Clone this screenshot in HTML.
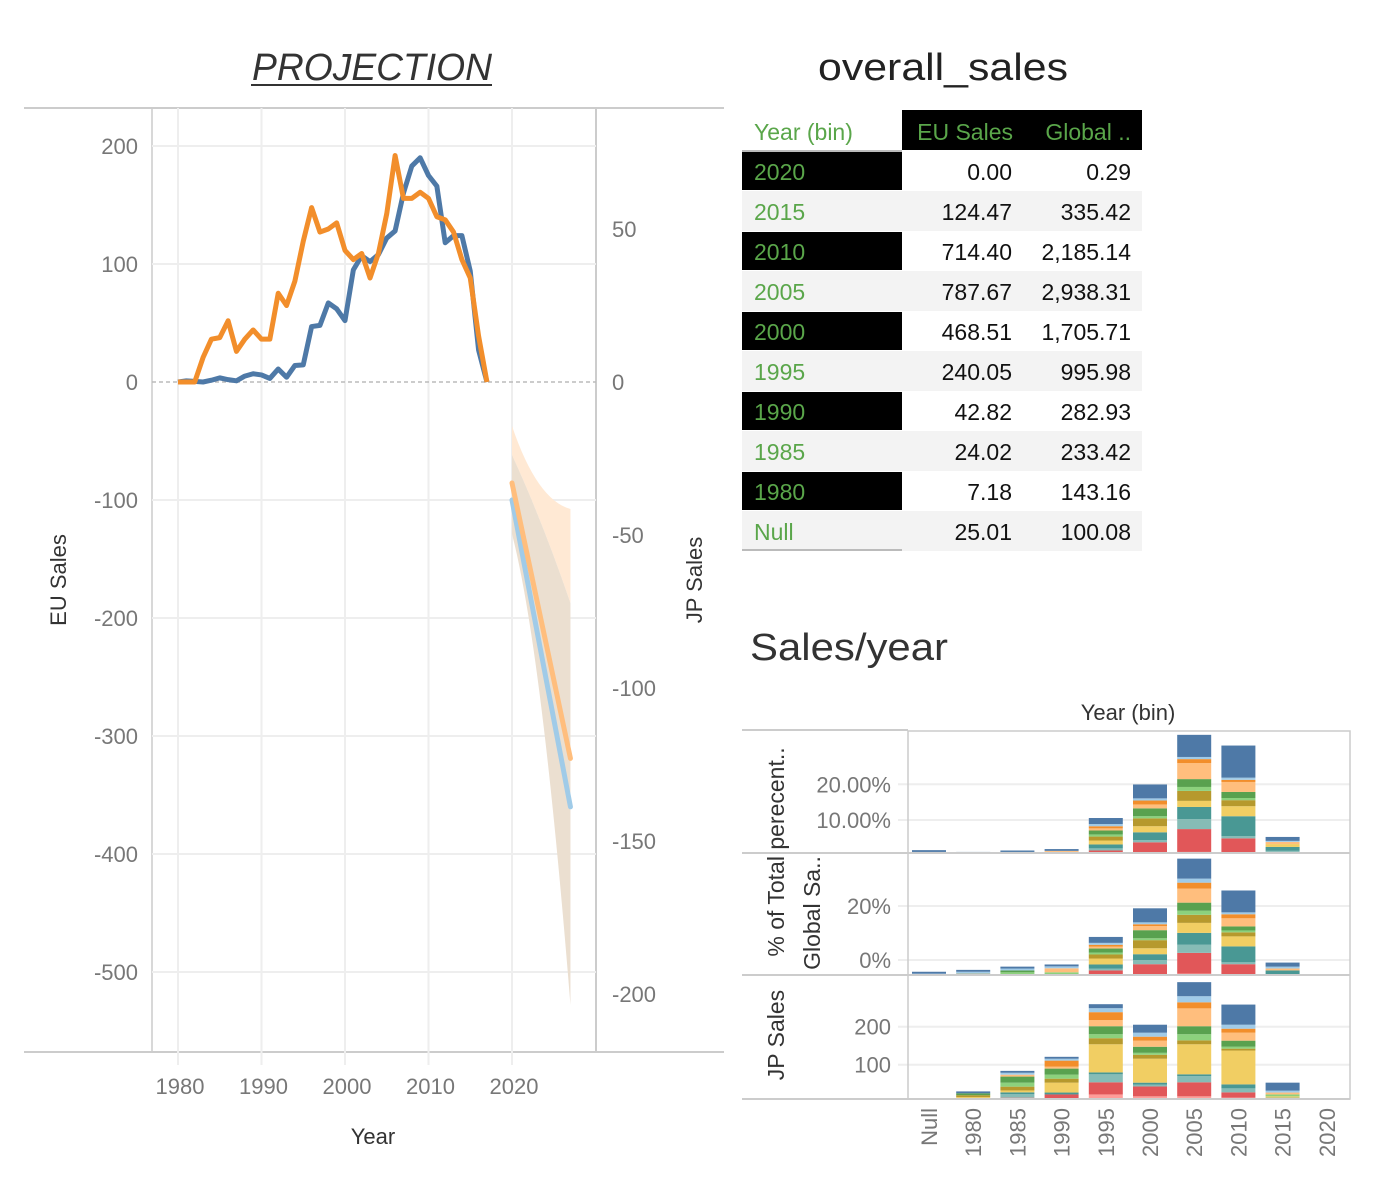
<!DOCTYPE html>
<html><head><meta charset="utf-8"><style>
html,body{margin:0;padding:0;background:#fff;}
svg{display:block;font-family:"Liberation Sans",sans-serif;}
</style></head><body>
<svg id="c" width="1374" height="1190" viewBox="0 0 1374 1190">
<text x="372" y="80" text-anchor="middle" font-size="38" font-style="italic" fill="#333" textLength="240" lengthAdjust="spacingAndGlyphs">PROJECTION</text>
<line x1="251" y1="85" x2="492" y2="85" stroke="#333" stroke-width="2"/>
<text x="818" y="80" font-size="38" fill="#222" textLength="250" lengthAdjust="spacingAndGlyphs">overall_sales</text>
<text x="750" y="660" font-size="38" fill="#333" textLength="198" lengthAdjust="spacingAndGlyphs">Sales/year</text>
<g id="line"></g><g id="tbl"></g><g id="bars"></g>
</svg>
<script>
// ---- Projection chart data ----
const years = [1980,1981,1982,1983,1984,1985,1986,1987,1988,1989,1990,1991,1992,1993,1994,1995,1996,1997,1998,1999,2000,2001,2002,2003,2004,2005,2006,2007,2008,2009,2010,2011,2012,2013,2014,2015,2016,2017];
const euSales = [0,1,0.5,0,1.5,3.5,2,1,5,7,6,3,11,4,14,14.5,47,48,67,62,52,95,107,102,108,122,128,160,183,190,175,166,118,124,124,94,27,0];
const jpSales = [0,0,0,8,14,14.5,20,10,14,17,14,14,29,25,33,46,57,49,50,52,43,40,42,34,42,55,74,60,60,62,60,54,53,49,40,34,15,0];
const projYears = [2020,2027];
const euProj = [-100,-360];
const jpProj = [-33,-123];
const euTicks = [200,100,0,-100,-200,-300,-400,-500];
const jpTicks = [50,0,-50,-100,-150,-200];
const xTicks = [1980,1990,2000,2010,2020];
// ---- Table data ----
const binLabels = ['2020','2015','2010','2005','2000','1995','1990','1985','1980','Null'];
const euTotals = ['0.00','124.47','714.40','787.67','468.51','240.05','42.82','24.02','7.18','25.01'];
const globalTotals = ['0.29','335.42','2,185.14','2,938.31','1,705.71','995.98','282.93','233.42','143.16','100.08'];
// ---- Stacked bar data (segments bottom->top by genre color) ----
const bins = ['Null','1980','1985','1990','1995','2000','2005','2010','2015','2020'];
const pctTicks = [10,20];
const shareTicks = [0,20];
const jpTicksBar = [100,200];
const pctSeg = [
 [0,0,0,0,0,0,0,0,0,0,0.3,0.5],[0,0,0,0,0,0,0,0,0,0,0,0.3],[0,0,0,0,0,0,0,0.3,0,0,0,0.4],
 [0,0,0.3,0,0,0,0,0,0.3,0,0,0.5],[0,0.7,0.6,1.1,1.1,1.1,0.6,1.1,0.6,0.6,0.6,1.7],
 [0,3.0,0.6,2.2,1.7,2.2,0.6,2.2,1.1,1.1,0.6,3.9],[0.3,6.4,2.8,3.4,1.7,2.8,1.1,2.2,4.5,1.1,0.6,6.2],
 [0,4.1,0.6,5.6,2.8,1.7,0.6,1.7,2.8,0.6,0.6,9.0],[0,0.3,0.3,1.1,0.8,0,0,0,0.6,0,0.3,1.1],[0,0,0,0,0,0,0,0,0,0,0,0]];
const shareSeg = [
 [0,0,0,0,0,0,0,0,0,0,0.5,0.7],[0,0,0,0,0,0.5,0,0,0,0,0.7,0.7],[0,0,0,0,0,0,1.0,0.7,0,0,0.7,0.7],
 [0,0,0,0,0,0,1.0,0,1.5,0,0.7,0.7],[0,1.7,0.7,1.5,2.2,1.5,0.7,1.5,0.7,0.7,0.7,2.2],
 [0,4.0,1.5,2.2,2.2,3.0,0.7,3.0,1.5,0.7,0.7,5.2],[0.5,7.7,3.0,4.4,3.7,3.0,1.5,3.0,5.2,2.2,1.5,7.4],
 [0,4.0,0.7,5.9,3.7,1.5,0.7,1.5,3.0,1.5,0.7,8.1],[0,0,0,1.7,0,0,0,0,0.7,0,0.7,1.5],[0,0,0,0,0,0,0,0,0,0,0,0]];
const jpSeg = [
 [0,0,0,0,0,0,0,0,0,0,0,2],[0,0,0,0,5,5,0,5,0,0,0,5],[0,3.5,9,5,5,10,10.5,16,5,0,5,5],
 [0,12,0,5,26,10.5,10.5,16,5,16,5,5],[12,32,21,5,74,16,10.5,21,16,21,10.5,10.5],
 [7,26,5,5,63,10.5,5,16,16,10.5,10.5,21],[7,37,16,5,79,10.5,16,21,47,16,16,37],
 [3.5,14,10.5,10.5,89,5,5,16,21,10.5,10.5,53],[0,0,0,3.5,3.5,0,5,0,5,0,5,21],[0,0,0,0,0,0,0,0,0,0,0,0]];
const colors = ['#ff9d9a','#e15759','#86bcb6','#499894','#f1ce63','#b6992d','#8cd17d','#59a14f','#ffbe7d','#f28e2b','#a0cbe8','#4e79a7'];

const NS='http://www.w3.org/2000/svg';
function mk(parent,tag,attrs,text){const e=document.createElementNS(NS,tag);for(const k in attrs)e.setAttribute(k,attrs[k]);if(text!==undefined)e.textContent=text;parent.appendChild(e);return e;}

// ===== Line chart =====
const L=document.getElementById('line');
const xS=y=>178+(y-1980)*8.35;
const euY=v=>382-v*1.18;
const jpY=v=>382-v*3.06;
let e;
e=mk(L,'line',{x1:24,y1:108,x2:724,y2:108,stroke:'#ccc','stroke-width':2});


e=mk(L,'line',{x1:24,y1:1052,x2:724,y2:1052,stroke:'#ccc','stroke-width':2});


e=mk(L,'line',{x1:152,y1:108,x2:152,y2:1052,stroke:'#ccc','stroke-width':1.5});


e=mk(L,'line',{x1:596,y1:108,x2:596,y2:1052,stroke:'#ccc','stroke-width':2});


xTicks.forEach(t=>{
 e=mk(L,'line',{x1:xS(t),y1:108,x2:xS(t),y2:1065,stroke:'#eee','stroke-width':2});
 
 
 e=mk(L,'text',{x:xS(t)+2,y:1094,'text-anchor':'middle','font-size':22,fill:'#777'},t);
 
 
});
euTicks.forEach(t=>{
 if(t!==0){e=mk(L,'line',{x1:152,y1:euY(t),x2:596,y2:euY(t),stroke:'#eee','stroke-width':2});
 
 }
 e=mk(L,'text',{x:138,y:euY(t)+8,'text-anchor':'end','font-size':22,fill:'#777'},t);
 
 
});
jpTicks.forEach(t=>{
 e=mk(L,'text',{x:612,y:jpY(t)+8,'font-size':22,fill:'#777'},t);
 
 
});
e=mk(L,'line',{x1:152,y1:euY(0),x2:596,y2:euY(0),stroke:'#bbb','stroke-width':1.5,'stroke-dasharray':'4,3'});


const x0=xS(projYears[0]),x1=xS(projYears[1]);
e=mk(L,'path',{d:`M${x0},426 Q${x0+25},500 ${x1},509 L${x1},603 Q${x0+30},520 ${x0},455 Z`,fill:'#ffe9d4'});


e=mk(L,'path',{d:`M${x0},455 Q${x0+30},520 ${x1},603 L${x1},1005 Q${x0+30},650 ${x0},534 Z`,fill:'#ebdfd0'});


e=mk(L,'polyline',{points:years.map((y,i)=>xS(y)+','+euY(euSales[i])).join(' '),fill:'none',stroke:'#4e79a7','stroke-width':5,'stroke-linejoin':'round'});


e=mk(L,'polyline',{points:years.map((y,i)=>xS(y)+','+jpY(jpSales[i])).join(' '),fill:'none',stroke:'#f28e2b','stroke-width':5,'stroke-linejoin':'round'});


e=mk(L,'polyline',{points:projYears.map((y,i)=>xS(y)+','+euY(euProj[i])).join(' '),fill:'none',stroke:'#a0cbe8','stroke-width':5,'stroke-linecap':'round'});


e=mk(L,'polyline',{points:projYears.map((y,i)=>xS(y)+','+jpY(jpProj[i])).join(' '),fill:'none',stroke:'#ffbe7d','stroke-width':5,'stroke-linecap':'round'});


e=mk(L,'text',{x:373,y:1144,'text-anchor':'middle','font-size':22,fill:'#333'},'Year');


e=mk(L,'text',{x:66,y:580,'text-anchor':'middle','font-size':22,fill:'#333',transform:'rotate(-90 66 580)'},'EU Sales');


e=mk(L,'text',{x:702,y:580,'text-anchor':'middle','font-size':22,fill:'#333',transform:'rotate(-90 702 580)'},'JP Sales');



// ===== Table =====
const T=document.getElementById('tbl');
const green='#5aa64a';
e=mk(T,'rect',{x:902,y:110,width:240,height:40,fill:'#000'});


e=mk(T,'text',{x:754,y:140,'font-size':23,fill:green},'Year (bin)');


e=mk(T,'text',{x:1013,y:140,'text-anchor':'end','font-size':23,fill:green},'EU Sales');


e=mk(T,'text',{x:1131,y:140,'text-anchor':'end','font-size':23,fill:green},'Global ..');


e=mk(T,'line',{x1:742,y1:151,x2:902,y2:151,stroke:'#bbb','stroke-width':2});


binLabels.forEach((b,i)=>{
 const y=151+i*40;
 if(i%2===1){e=mk(T,'rect',{x:742,y:y,width:400,height:40,fill:'#f3f3f3'});
  
  }
 else if(b!=='Null'){e=mk(T,'rect',{x:742,y:y+1,width:160,height:38,fill:'#000'});
  
  }
 e=mk(T,'text',{x:754,y:y+29,'font-size':23,fill:green},b);
 
 
 e=mk(T,'text',{x:1012,y:y+29,'text-anchor':'end','font-size':23,fill:'#111'},euTotals[i]);
 
 
 e=mk(T,'text',{x:1131,y:y+29,'text-anchor':'end','font-size':23,fill:'#111'},globalTotals[i]);
 
 
});
e=mk(T,'line',{x1:742,y1:550,x2:902,y2:550,stroke:'#bbb','stroke-width':2});



// ===== Stacked bars =====
const B=document.getElementById('bars');
const bx=i=>929+i*44.2;
const panels=[
 {seg:pctSeg,base:853,scale:3.57,ticks:pctTicks,fmt:t=>t.toFixed(2)+'%',ty:t=>855.7-t*3.57},
 {seg:shareSeg,base:975,scale:2.7,ticks:shareTicks,fmt:t=>t+'%',ty:t=>960-t*2.7},
 {seg:jpSeg,base:1099,scale:0.38,ticks:jpTicksBar,fmt:t=>''+t,ty:t=>1102.7-t*0.38}];
e=mk(B,'text',{x:1128,y:720,'text-anchor':'middle','font-size':22,fill:'#333'},'Year (bin)');


panels.forEach(p=>{
 p.ticks.forEach(t=>{
  e=mk(B,'line',{x1:898,y1:p.ty(t),x2:1350,y2:p.ty(t),stroke:'#eee','stroke-width':2});
  
  
  e=mk(B,'text',{x:891,y:p.ty(t)+8,'text-anchor':'end','font-size':22,fill:'#777'},p.fmt(t));
  
  
 });
 p.seg.forEach((arr,i)=>{
  let acc=0;
  arr.forEach((v,k)=>{
   if(v<=0)return;
   const y0=p.base-acc*p.scale; acc+=v; const y1=p.base-acc*p.scale;
   const r=mk(B,'rect',{x:bx(i)-17,y:y1,width:34,height:y0-y1,fill:colors[k]});
   
   
  });
 });
 e=mk(B,'line',{x1:742,y1:p.base,x2:1350,y2:p.base,stroke:'#ccc','stroke-width':2});
 
 
});
e=mk(B,'line',{x1:742,y1:730,x2:908,y2:730,stroke:'#ccc','stroke-width':2});


e=mk(B,'rect',{x:908,y:731,width:442,height:368,fill:'none',stroke:'#ccc','stroke-width':1.5});


bins.forEach((b,i)=>{
 const x=bx(i)+8;
 e=mk(B,'text',{x:x,y:1108,'text-anchor':'end','font-size':22,fill:'#777',transform:`rotate(-90 ${x} 1108)`},b);
 
 
});
e=mk(B,'text',{x:784,y:852,'text-anchor':'middle','font-size':23,fill:'#333',transform:'rotate(-90 784 852)'},'% of Total perecent..');


e=mk(B,'text',{x:820,y:913,'text-anchor':'middle','font-size':23,fill:'#333',transform:'rotate(-90 820 913)'},'Global Sa..');


e=mk(B,'text',{x:784,y:1035,'text-anchor':'middle','font-size':23,fill:'#333',transform:'rotate(-90 784 1035)'},'JP Sales');


</script>
</body></html>
